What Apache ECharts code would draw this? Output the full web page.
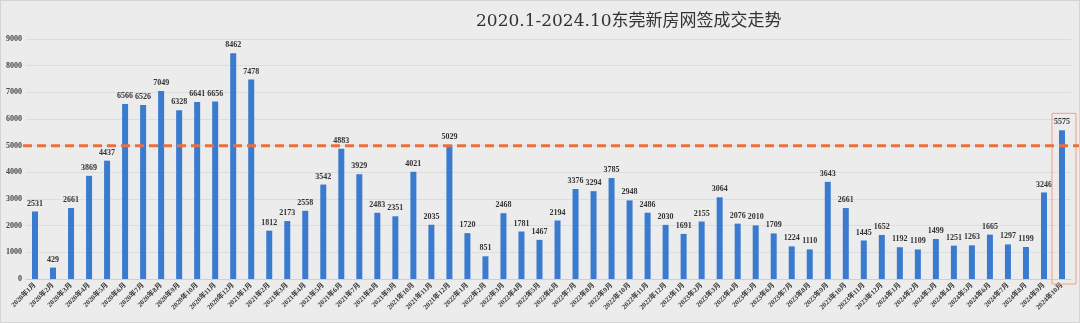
<!DOCTYPE html>
<html>
<head>
<meta charset="utf-8">
<script src="https://cdn.jsdelivr.net/npm/echarts@6/dist/echarts.min.js"></script>
<style>
  html, body { margin: 0; padding: 0; background: #ffffff; }
  #chart { width: 1078px; height: 321px; border: 1px solid #d4d4d4; background: #ececec; }
</style>
</head>
<body>
<div id="chart"></div>
<script>
// Monthly signed new-home transactions, Dongguan
const months = [
  '2020年1月','2020年2月','2020年3月','2020年4月','2020年5月','2020年6月','2020年7月','2020年8月','2020年9月','2020年10月','2020年11月','2020年12月',
  '2021年1月','2021年2月','2021年3月','2021年4月','2021年5月','2021年6月','2021年7月','2021年8月','2021年9月','2021年10月','2021年11月','2021年12月',
  '2022年1月','2022年2月','2022年3月','2022年4月','2022年5月','2022年6月','2022年7月','2022年8月','2022年9月','2022年10月','2022年11月','2022年12月',
  '2023年1月','2023年2月','2023年3月','2023年4月','2023年5月','2023年6月','2023年7月','2023年8月','2023年9月','2023年10月','2023年11月','2023年12月',
  '2024年1月','2024年2月','2024年3月','2024年4月','2024年5月','2024年6月','2024年7月','2024年8月','2024年9月','2024年10月'
];
const deals = [
  2531, 429, 2661, 3869, 4437, 6566, 6526, 7049, 6328, 6641, 6656, 8462,
  7478, 1812, 2173, 2558, 3542, 4883, 3929, 2483, 2351, 4021, 2035, 5029,
  1720, 851, 2468, 1781, 1467, 2194, 3376, 3294, 3785, 2948, 2486, 2030,
  1691, 2155, 3064, 2076, 2010, 1709, 1224, 1110, 3643, 2661, 1445, 1652,
  1192, 1109, 1499, 1251, 1263, 1665, 1297, 1199, 3246, 5575
];
const yTicks = { min: 0, max: 9000, step: 1000 };
const referenceLevel = 5000;
const titleText = '2020.1-2024.10东莞新房网签成交走势';

const chart = echarts.init(document.getElementById('chart'));
chart.setOption({
  backgroundColor: '#ececec',
  animation: false,
  title: {
    text: titleText,
    left: 470,
    top: 7,
    textStyle: { fontFamily: 'DejaVu Serif, Noto Sans CJK SC', fontSize: 17, fontWeight: 'normal', color: '#333' }
  },
  grid: { left: 25, right: 8, top: 38, bottom: 43 },
  xAxis: {
    type: 'category',
    data: months,
    axisLine: { lineStyle: { color: '#cfcfcf' } },
    axisTick: { show: false },
    axisLabel: {
      interval: 0, rotate: 45, margin: 5,
      fontSize: 7, color: '#3a3a3a', fontFamily: 'Liberation Serif, Noto Sans CJK SC', fontWeight: 'bold'
    }
  },
  yAxis: {
    type: 'value',
    min: yTicks.min, max: yTicks.max, interval: yTicks.step,
    axisLine: { show: false },
    axisTick: { show: false },
    splitLine: { lineStyle: { color: '#dddddd', width: 1 } },
    axisLabel: {
      fontSize: 8, color: '#444', margin: 4, fontFamily: 'Liberation Serif', fontWeight: 'bold',
      formatter: v => String(v)
    }
  },
  series: [{
    type: 'bar',
    data: deals,
    barWidth: 6,
    itemStyle: { color: '#3a7bd0' },
    label: {
      show: true, position: 'top', distance: 4,
      fontSize: 8, color: '#333', fontFamily: 'Liberation Serif', fontWeight: 'bold'
    }
  }]
});

// Reference level dashed line and highlight box around the latest month
const levelY = chart.convertToPixel({ yAxisIndex: 0 }, referenceLevel);
const lastIdx = deals.length - 1;
const lastTop = chart.convertToPixel({ xAxisIndex: 0, yAxisIndex: 0 }, [lastIdx, deals[lastIdx]]);
const base = chart.convertToPixel({ xAxisIndex: 0, yAxisIndex: 0 }, [lastIdx, 0]);
chart.setOption({
  graphic: [
    {
      type: 'line', z: 10,
      shape: { x1: 22, y1: levelY, x2: 1080, y2: levelY },
      style: { stroke: '#ec6f3a', lineWidth: 3, lineDash: [9, 5] }
    },
    {
      type: 'rect', z: 9,
      shape: { x: base[0] - 10, y: lastTop[1] - 17, width: 24, height: base[1] - lastTop[1] + 22 },
      style: { fill: 'none', stroke: '#f0a080', lineWidth: 1 }
    }
  ]
});
</script>
</body>
</html>
